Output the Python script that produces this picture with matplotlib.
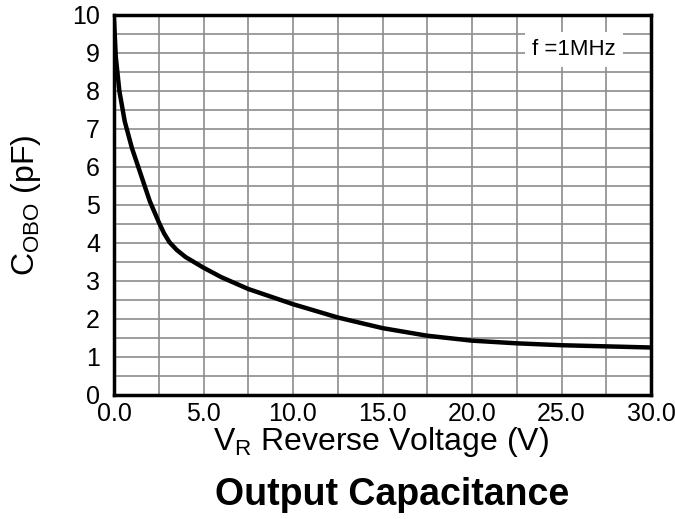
import matplotlib.pyplot as plt
import numpy as np

plt.rcParams['font.family'] = ['Liberation Sans', 'DejaVu Sans']
plt.rcParams['mathtext.fontset'] = 'custom'
plt.rcParams['mathtext.rm'] = 'Liberation Sans'
plt.rcParams['mathtext.it'] = 'Liberation Sans'

# values
voltage = [0, 0.1, 0.3, 0.6, 1.0, 1.5, 2.0, 2.5, 2.8, 3.1, 3.5, 4.0, 5.0,
           6.0, 7.5, 10.0, 12.5, 15.0, 17.5, 20.0, 22.5, 25.0, 27.5, 30.0]
cap = [9.9, 8.9, 8.0, 7.2, 6.5, 5.8, 5.1, 4.55, 4.25, 4.02, 3.82, 3.63, 3.35,
       3.1, 2.79, 2.39, 2.04, 1.76, 1.56, 1.43, 1.36, 1.31, 1.28, 1.25]

x_ticks = [0, 5, 10, 15, 20, 25, 30]
y_ticks = list(range(0, 11))

fig = plt.figure(figsize=(6.75, 5.19), dpi=100)
ax = fig.add_axes([114 / 675, 1 - 395 / 519, 537 / 675, 380 / 519])

ax.plot(voltage, cap, color='black', linewidth=3.2, zorder=3,
        solid_capstyle='round', solid_joinstyle='round')

ax.set_xlim(0, 30)
ax.set_ylim(0, 10)
ax.set_xticks(np.arange(0, 30.1, 2.5), minor=True)
ax.set_yticks(np.arange(0, 10.1, 0.5), minor=True)
ax.set_xticks(x_ticks)
ax.set_xticklabels([f"{t:.1f}" for t in x_ticks])
ax.set_yticks(y_ticks)
ax.grid(True, which='both', color='#8c8c8c', linewidth=1.2)
ax.tick_params(which='both', length=0, labelsize=18)
ax.tick_params(axis='x', pad=5)
ax.tick_params(axis='y', pad=10)

for s in ax.spines.values():
    s.set_linewidth(2.5)
    s.set_zorder(4)

ax.text(0.857, 0.91, "f =1MHz", transform=ax.transAxes, fontsize=16,
        ha='center', va='center', zorder=5,
        bbox=dict(facecolor='white', edgecolor='none', pad=5))

fig.text(381 / 675, 1 - 442 / 519, r"V$_{\mathrm{R}}$ Reverse Voltage (V)",
         fontsize=23, ha='center', va='center')
fig.text(392 / 675, 1 - 495 / 519, "Output Capacitance", fontsize=27,
         fontweight='bold', ha='center', va='center')
fig.text(26 / 675, 1 - 205 / 519, r"C$_{\mathrm{OBO}}$ (pF)", fontsize=23,
         rotation=90, ha='center', va='center')

fig.savefig('out.png', dpi=100)
